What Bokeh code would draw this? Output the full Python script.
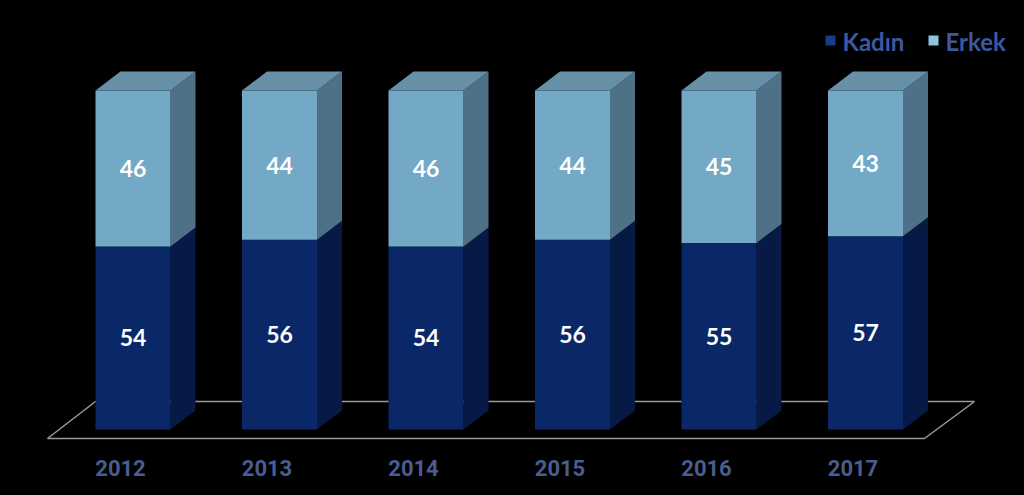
from bokeh.plotting import figure
from bokeh.models import Range1d
from bokeh.core.properties import value
from bokeh.embed import file_html
from bokeh.resources import INLINE

# ---- data ----
years = ["2012", "2013", "2014", "2015", "2016", "2017"]
kadin = [54, 56, 54, 56, 55, 57]
erkek = [46, 44, 46, 44, 45, 43]
series_names = ["Kadın", "Erkek"]

# ---- styling / geometry (screen px) ----
W, H = 1016, 490
OX, OY = 0, 0
BAR_X0 = 95
BAR_STEP = 146.5
BAR_W = 75
DX = 25
DY_PX = 19
BASE_Y = 429
TOP_Y = 90
SCALE = (BASE_Y - TOP_Y) / 100.0

K_FRONT, K_SIDE = "#0A2868", "#061A45"
E_FRONT, E_SIDE, E_TOP = "#73A8C6", "#4E7187", "#6690A8"
LEG_COLOR = "#3D58A0"
YEAR_COLOR = "#4A5D90"


def ypx(sy):
    return (BASE_Y - sy) / SCALE


p = figure(width=W, height=H,
           x_range=Range1d(OX, OX + W),
           y_range=Range1d(ypx(OY + H), ypx(OY)),
           output_backend="svg", toolbar_location=None,
           x_axis_location=None, y_axis_location=None,
           min_border=0, background_fill_color="black",
           border_fill_color="black", outline_line_color=None)
p.grid.visible = False

# floor
p.patch(x=[47, 924, 974, 95],
        y=[ypx(438), ypx(438), ypx(401), ypx(401)],
        fill_color=None, line_color="#9A9A9A", line_width=1.5)

dy = DY_PX / SCALE
n = len(years)
lefts = [BAR_X0 + i * BAR_STEP for i in range(n)]
rights = [l + BAR_W for l in lefts]
k_top = [k for k in kadin]
e_top = [k + e for k, e in zip(kadin, erkek)]


def side(x1, y0, y1):
    return [x1, x1 + DX, x1 + DX, x1], [y0, y0 + dy, y1 + dy, y1]


def top(x0, x1, y1):
    return [x0, x1, x1 + DX, x0 + DX], [y1, y1, y1 + dy, y1 + dy]


# Kadın
ks = [side(r, 0, t) for r, t in zip(rights, k_top)]
p.patches(xs=[s[0] for s in ks], ys=[s[1] for s in ks],
          fill_color=K_SIDE, line_color=None)
p.quad(left=lefts, right=rights, bottom=[0] * n, top=k_top,
       fill_color=K_FRONT, line_color=None)

# Erkek
es = [side(r, b, t) for r, b, t in zip(rights, k_top, e_top)]
p.patches(xs=[s[0] for s in es], ys=[s[1] for s in es],
          fill_color=E_SIDE, line_color=None)
p.quad(left=lefts, right=rights, bottom=k_top, top=e_top,
       fill_color=E_FRONT, line_color=None)
ts = [top(l, r, t) for l, r, t in zip(lefts, rights, e_top)]
p.patches(xs=[s[0] for s in ts], ys=[s[1] for s in ts],
          fill_color=E_TOP, line_color=None)

# value labels
centers = [(l + r) / 2 for l, r in zip(lefts, rights)]
p.text(x=centers, y=[k / 2 for k in kadin], text=[str(k) for k in kadin],
       text_align="center", text_baseline="middle", text_color="white",
       text_font=value("Lato"), text_font_style="bold", text_font_size="23px")
p.text(x=centers, y=[k + e / 2 for k, e in zip(kadin, erkek)],
       text=[str(e) for e in erkek],
       text_align="center", text_baseline="middle", text_color="white",
       text_font=value("Lato"), text_font_style="bold", text_font_size="23px")

# year labels
p.text(x=[c - 12.5 for c in centers], y=[ypx(467)] * n, text=years,
       text_align="center", text_baseline="middle", text_color=YEAR_COLOR,
       text_font=value("Roboto"), text_font_style="bold", text_font_size="22px")

# legend
leg_x = [825, 928]
p.quad(left=leg_x, right=[x + 10 for x in leg_x],
       bottom=[ypx(45)] * 2, top=[ypx(35)] * 2,
       fill_color=["#1A3A8A", "#8CC4E0"], line_color=None)
p.text(x=[x + 17 for x in leg_x], y=[ypx(41)] * 2, text=series_names,
       text_align="left", text_baseline="middle", text_color=LEG_COLOR,
       text_font=value("Lato"), text_font_style="bold", text_font_size="24px")

html = file_html(p, INLINE)
html = html.replace("<head>",
                    "<head><style>html,body{background:#000;margin:0;padding:0;overflow:hidden;}</style>", 1)
open("out.html", "w").write(html)
